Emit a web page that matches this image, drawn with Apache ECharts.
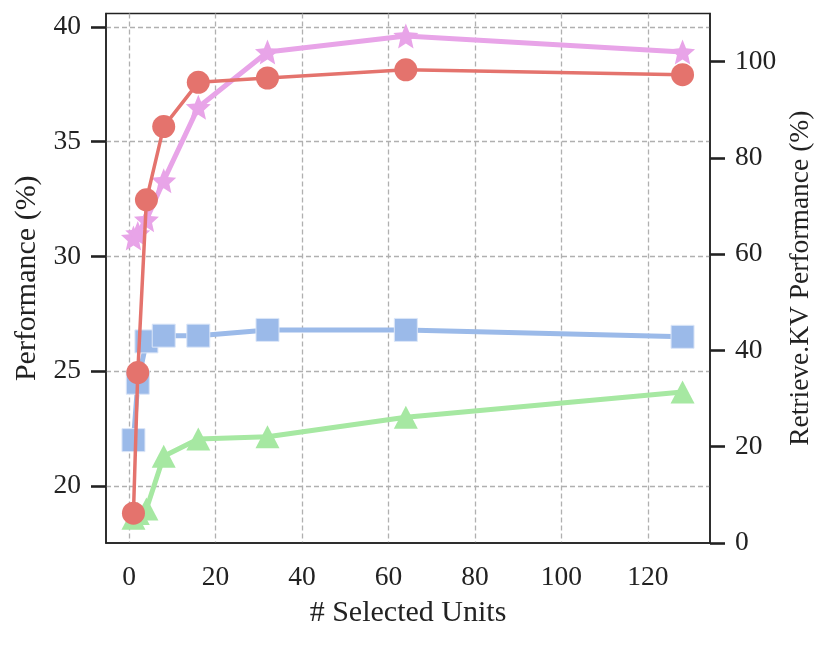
<!DOCTYPE html>
<html>
<head>
<meta charset="utf-8">
<script src="https://cdn.jsdelivr.net/npm/echarts@6/dist/echarts.min.js"></script>
<style>
  html, body { margin: 0; padding: 0; background: #fff; }
  #chart { width: 830px; height: 646px; }
</style>
</head>
<body>
<div id="chart"></div>
<script>
// selected units on the x axis
const units = [1, 2, 4, 8, 16, 32, 64, 128];

// left axis series (Performance %)
const starVals = [30.8, 31.0, 31.6, 33.3, 36.5, 38.9, 39.6, 38.9];
const squareVals = [22.0, 24.5, 26.3, 26.55, 26.55, 26.8, 26.8, 26.5];
const triangleVals = [18.6, 18.8, 19.0, 21.3, 22.05, 22.15, 23.0, 24.1];

// right axis series (Retrieve.KV %)
const kvVals = [6.2, 35.4, 71.3, 86.5, 95.7, 96.6, 98.3, 97.3];

// tick labels
const xTicks = [0, 20, 40, 60, 80, 100, 120];
const leftTicks = [20, 25, 30, 35, 40];
const rightTicks = [0, 20, 40, 60, 80, 100];

const FONT = '"Liberation Serif", "DejaVu Serif", serif';
const INK = '#222';
const GRID = { color: '#b0b0b0', type: [5, 3], width: 1.3 };

// 5-point star symbol like matplotlib '*'
function starPath() {
  let d = '';
  for (let i = 0; i < 10; i++) {
    const r = i % 2 === 0 ? 1 : 0.45;
    const a = -Math.PI / 2 + i * Math.PI / 5;
    d += (i === 0 ? 'M' : 'L') + (r * Math.cos(a)).toFixed(3) + ' ' + (r * Math.sin(a)).toFixed(3) + ' ';
  }
  return 'path://' + d + 'Z';
}

function pairs(vals) {
  return units.map((u, i) => [u, vals[i]]);
}

const chart = echarts.init(document.getElementById('chart'));

const option = {
  animation: false,
  textStyle: { fontFamily: FONT },
  grid: {
    left: 106, right: 120, top: 13.5, bottom: 103,
    show: true, borderColor: INK, borderWidth: 1.5, backgroundColor: 'transparent'
  },
  xAxis: {
    type: 'value',
    min: -5.35, max: 134.35,
    name: '# Selected Units',
    nameLocation: 'middle',
    nameGap: 55,
    nameTextStyle: { fontFamily: FONT, fontSize: 30, color: INK },
    axisLine: { show: true, onZero: false, lineStyle: { color: INK, width: 1.5 } },
    axisTick: { show: false, customValues: xTicks },
    axisLabel: { customValues: xTicks, fontFamily: FONT, fontSize: 27.5, color: INK, margin: 21 },
    splitLine: { show: true, lineStyle: GRID }
  },
  yAxis: [
    {
      type: 'value',
      position: 'left',
      min: 17.52, max: 40.58,
      name: 'Performance (%)',
      nameLocation: 'middle',
      nameGap: 62,
      nameTextStyle: { fontFamily: FONT, fontSize: 30, color: INK },
      axisLine: { show: true, onZero: false, lineStyle: { color: INK, width: 1.5 } },
      axisTick: { show: true, customValues: leftTicks, length: 15, lineStyle: { color: INK, width: 2.6 } },
      axisLabel: { customValues: leftTicks, fontFamily: FONT, fontSize: 27.5, color: INK, margin: 25 },
      splitLine: { show: true, lineStyle: GRID }
    },
    {
      type: 'value',
      position: 'right',
      min: 0, max: 110,
      name: 'Retrieve.KV Performance (%)',
      nameLocation: 'middle',
      nameGap: 74,
      nameRotate: 90,
      nameTextStyle: { fontFamily: FONT, fontSize: 27.5, color: INK },
      axisLine: { show: true, onZero: false, lineStyle: { color: INK, width: 1.5 } },
      axisTick: { show: true, customValues: rightTicks, length: 15, lineStyle: { color: INK, width: 2.6 } },
      axisLabel: { customValues: rightTicks, fontFamily: FONT, fontSize: 27.5, color: INK, margin: 25 },
      splitLine: { show: false }
    }
  ],
  series: [
    {
      name: 'star', type: 'line', yAxisIndex: 0,
      data: pairs(starVals),
      symbol: starPath(), symbolSize: 25,
      lineStyle: { color: '#e8a4e8', width: 5 },
      itemStyle: { color: '#e8a4e8' },
      z: 2
    },
    {
      name: 'square', type: 'line', yAxisIndex: 0,
      data: pairs(squareVals),
      symbol: 'rect', symbolSize: 23,
      lineStyle: { color: '#9bbae9', width: 5 },
      itemStyle: { color: '#9bbae9', borderColor: '#dbe6f8', borderWidth: 1 },
      z: 3
    },
    {
      name: 'triangle', type: 'line', yAxisIndex: 0,
      data: pairs(triangleVals),
      symbol: 'triangle', symbolSize: [24, 23],
      lineStyle: { color: '#a6e8a2', width: 5 },
      itemStyle: { color: '#a6e8a2' },
      z: 3
    },
    {
      name: 'kv', type: 'line', yAxisIndex: 1,
      data: pairs(kvVals),
      symbol: 'circle', symbolSize: 23,
      lineStyle: { color: '#e4736d', width: 3.5 },
      itemStyle: { color: '#e4736d' },
      z: 4
    }
  ]
};

chart.setOption(option);
</script>
</body>
</html>
